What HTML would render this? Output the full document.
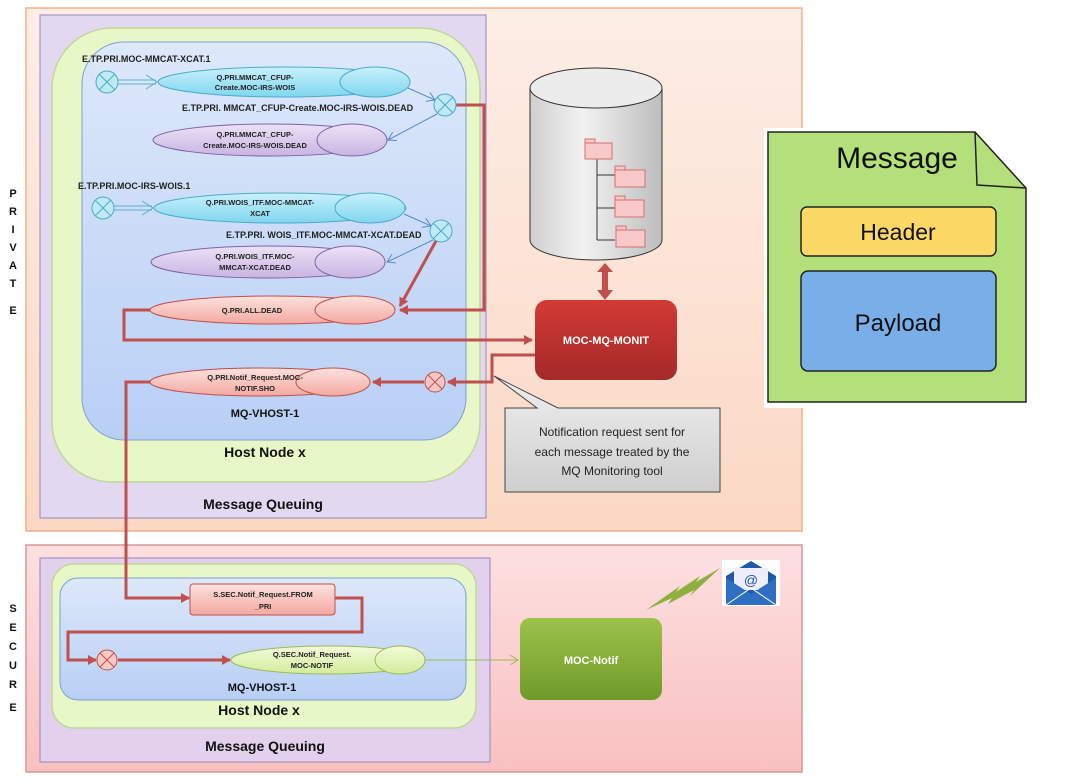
<!DOCTYPE html>
<html><head><meta charset="utf-8"><style>
html,body{margin:0;padding:0;background:#fff;width:1077px;height:783px;overflow:hidden}
svg{display:block;font-family:"Liberation Sans",sans-serif}
.s{font-size:7.5px;font-weight:bold;fill:#222;text-anchor:middle}
.l{font-size:9px;font-weight:bold;fill:#222}
.b{font-size:14px;font-weight:bold;fill:#111;text-anchor:middle}
.v{font-size:11px;font-weight:bold;fill:#111;text-anchor:middle}
</style></head><body>
<svg width="1077" height="783" viewBox="0 0 1077 783" xmlns="http://www.w3.org/2000/svg">
<defs>
<linearGradient id="pk" x1="0" y1="0" x2="0" y2="1"><stop offset="0" stop-color="#fdeee6"/><stop offset="1" stop-color="#fbd8c4"/></linearGradient>
<linearGradient id="rs" x1="0" y1="0" x2="0" y2="1"><stop offset="0" stop-color="#fde0e0"/><stop offset="1" stop-color="#f9c0c0"/></linearGradient>
<linearGradient id="bl" x1="0" y1="0" x2="0" y2="1"><stop offset="0" stop-color="#dde8fa"/><stop offset="1" stop-color="#b8cff5"/></linearGradient>
<linearGradient id="cy" x1="0" y1="0" x2="0" y2="1"><stop offset="0" stop-color="#c9f0fb"/><stop offset="1" stop-color="#7fd6ef"/></linearGradient>
<linearGradient id="pu" x1="0" y1="0" x2="0" y2="1"><stop offset="0" stop-color="#ece2f7"/><stop offset="1" stop-color="#c9b4e2"/></linearGradient>
<linearGradient id="rd" x1="0" y1="0" x2="0" y2="1"><stop offset="0" stop-color="#fde2de"/><stop offset="1" stop-color="#f3a8a0"/></linearGradient>
<linearGradient id="gq" x1="0" y1="0" x2="0" y2="1"><stop offset="0" stop-color="#f2fbd9"/><stop offset="1" stop-color="#d3ec9c"/></linearGradient>
<linearGradient id="mon" x1="0" y1="0" x2="0" y2="1"><stop offset="0" stop-color="#d33a36"/><stop offset="1" stop-color="#a32a28"/></linearGradient>
<linearGradient id="gn" x1="0" y1="0" x2="0" y2="1"><stop offset="0" stop-color="#9cc24a"/><stop offset="1" stop-color="#6f9a2a"/></linearGradient>
<linearGradient id="cyl" x1="0" y1="0" x2="1" y2="0"><stop offset="0" stop-color="#cfcfcf"/><stop offset=".4" stop-color="#f2f2f2"/><stop offset="1" stop-color="#bdbdbd"/></linearGradient>
<linearGradient id="gr" x1="0" y1="0" x2="0" y2="1"><stop offset="0" stop-color="#eeeeee"/><stop offset="1" stop-color="#cfcfcf"/></linearGradient>
<marker id="ar" markerWidth="10" markerHeight="10" refX="8" refY="5" orient="auto" markerUnits="userSpaceOnUse"><path d="M0,0 L9,5 L0,10 z" fill="#c0504d"/></marker>
<marker id="ab" markerWidth="10" markerHeight="10" refX="8" refY="5" orient="auto" markerUnits="userSpaceOnUse"><path d="M0,0 L8,5 L0,10" fill="none" stroke="#5a8ad0" stroke-width="1"/></marker>
<marker id="ag" markerWidth="10" markerHeight="10" refX="8" refY="5" orient="auto" markerUnits="userSpaceOnUse"><path d="M0,0 L8,5 L0,10" fill="none" stroke="#9bbb59" stroke-width="1"/></marker>
</defs>

<!-- PRIVATE region -->
<rect x="26" y="8" width="776" height="523" fill="url(#pk)" stroke="#f4b183" stroke-width="1.5"/>
<rect x="40" y="15" width="446" height="503" fill="#e2d8f0" stroke="#9784c2" stroke-width="1"/>
<rect x="52" y="28" width="428" height="454" rx="60" fill="#e8f7c8" stroke="#c3d69b" stroke-width="1.5"/>
<rect x="82" y="42" width="384" height="398" rx="42" fill="url(#bl)" stroke="#7f9fd0" stroke-width="1"/>
<text x="265" y="417" class="v">MQ-VHOST-1</text>
<text x="265" y="457" class="b">Host Node x</text>
<text x="263" y="509" class="b">Message Queuing</text>

<!-- SECURE region backgrounds -->
<rect x="26" y="545" width="776" height="227" fill="url(#rs)" stroke="#d99694" stroke-width="1.5"/>
<rect x="40" y="558" width="450" height="204" fill="#e2d0ec" stroke="#9784c2"/>
<rect x="52" y="564" width="424" height="164" rx="22" fill="#e8f7c8" stroke="#c3d69b" stroke-width="1.5"/>
<rect x="60" y="578" width="406" height="122" rx="18" fill="url(#bl)" stroke="#7f9fd0"/>
<text x="262" y="691" class="v">MQ-VHOST-1</text>
<text x="259" y="715" class="b">Host Node x</text>
<text x="265" y="751" class="b">Message Queuing</text>

<!-- letters -->
<g font-size="11" font-weight="bold" fill="#111" text-anchor="middle">
<text x="13" y="197">P</text><text x="13" y="215">R</text><text x="13" y="233">I</text><text x="13" y="251">V</text><text x="13" y="269">A</text><text x="13" y="287">T</text><text x="13" y="314">E</text>
<text x="13" y="612">S</text><text x="13" y="631">E</text><text x="13" y="650">C</text><text x="13" y="669">U</text><text x="13" y="688">R</text><text x="13" y="711">E</text>
</g>

<!-- queues top -->
<text x="82" y="62" class="l">E.TP.PRI.MOC-MMCAT-XCAT.1</text>
<ellipse cx="284" cy="82" rx="126" ry="15" fill="url(#cy)" stroke="#4bacc6"/>
<ellipse cx="375" cy="82" rx="35" ry="15" fill="url(#cy)" stroke="#4bacc6"/>
<text x="255" y="80" class="s">Q.PRI.MMCAT_CFUP-</text><text x="255" y="90" class="s">Create.MOC-IRS-WOIS</text>
<text x="182" y="111" class="l">E.TP.PRI. MMCAT_CFUP-Create.MOC-IRS-WOIS.DEAD</text>
<ellipse cx="270" cy="140" rx="117" ry="16" fill="url(#pu)" stroke="#8064a2"/>
<ellipse cx="352" cy="140" rx="35" ry="16" fill="url(#pu)" stroke="#8064a2"/>
<text x="255" y="137" class="s">Q.PRI.MMCAT_CFUP-</text><text x="255" y="148" class="s">Create.MOC-IRS-WOIS.DEAD</text>

<text x="78" y="189" class="l">E.TP.PRI.MOC-IRS-WOIS.1</text>
<ellipse cx="280" cy="208" rx="126" ry="15" fill="url(#cy)" stroke="#4bacc6"/>
<ellipse cx="370" cy="208" rx="35" ry="15" fill="url(#cy)" stroke="#4bacc6"/>
<text x="260" y="205" class="s">Q.PRI.WOIS_ITF.MOC-MMCAT-</text><text x="260" y="216" class="s">XCAT</text>
<text x="226" y="238" class="l">E.TP.PRI. WOIS_ITF.MOC-MMCAT-XCAT.DEAD</text>
<ellipse cx="268" cy="262" rx="117" ry="16" fill="url(#pu)" stroke="#8064a2"/>
<ellipse cx="350" cy="262" rx="35" ry="16" fill="url(#pu)" stroke="#8064a2"/>
<text x="255" y="259" class="s">Q.PRI.WOIS_ITF.MOC-</text><text x="255" y="270" class="s">MMCAT-XCAT.DEAD</text>

<ellipse cx="272" cy="310" rx="122" ry="14" fill="url(#rd)" stroke="#c0504d"/>
<ellipse cx="355" cy="310" rx="40" ry="14" fill="url(#rd)" stroke="#c0504d"/>
<text x="252" y="313" class="s" font-size="9">Q.PRI.ALL.DEAD</text>

<ellipse cx="260" cy="382" rx="110" ry="14" fill="url(#rd)" stroke="#c0504d"/>
<ellipse cx="333" cy="382" rx="37" ry="14" fill="url(#rd)" stroke="#c0504d"/>
<text x="255" y="380" class="s" font-size="8">Q.PRI.Notif_Request.MOC-</text><text x="255" y="391" class="s" font-size="8">NOTIF.SHO</text>

<!-- double blue arrows -->
<g stroke="#5ab0cc" stroke-width="1" fill="none">
<path d="M118,80 L156,80 M118,84 L156,84"/><path d="M114,206 L152,206 M114,210 L152,210"/>
<path d="M146,75 L157,82 L146,89"/><path d="M142,201 L153,208 L142,215"/>
</g>
<g stroke="#5a8ad0" stroke-width="1" fill="none">
<path d="M408,88 L435,100" marker-end="url(#ab)"/>
<path d="M437,114 L388,140" marker-end="url(#ab)"/>
<path d="M404,214 L431,226" marker-end="url(#ab)"/>
<path d="M433,240 L387,262" marker-end="url(#ab)"/>
</g>

<!-- cylinder -->
<path d="M530,88 L530,240 A66,20 0 0 0 662,240 L662,88 Z" fill="url(#cyl)" stroke="#333"/>
<ellipse cx="596" cy="88" rx="66" ry="20" fill="#ececec" stroke="#333"/>
<path d="M597,152 L597,240 M597,175 L615,175 M597,208 L615,208 M597,240 L615,240" stroke="#333" fill="none"/>
<g fill="#f9c9c9" stroke="#d47070" stroke-width="1">
<rect x="585" y="143" width="27" height="16"/><rect x="585" y="139" width="10" height="4"/>
<rect x="615" y="170" width="30" height="17"/><rect x="615" y="166" width="10" height="4"/>
<rect x="615" y="200" width="29" height="17"/><rect x="615" y="196" width="10" height="4"/>
<rect x="616" y="230" width="29" height="17"/><rect x="616" y="226" width="10" height="4"/>
</g>
<path d="M605,263 L597,272 L602,272 L602,290 L597,290 L605,300 L613,290 L608,290 L608,272 L613,272 Z" fill="#c0504d"/>

<rect x="535" y="300" width="142" height="80" rx="12" fill="url(#mon)"/>
<text x="606" y="344" text-anchor="middle" font-size="11" font-weight="bold" fill="#fff">MOC-MQ-MONIT</text>

<!-- callout -->
<path d="M505,408 L537,408 L494,376 L558,408 L720,408 L720,492 L505,492 Z" fill="url(#gr)" stroke="#444"/>
<g font-size="12" fill="#222" text-anchor="middle"><text x="612" y="436">Notification request sent for</text><text x="612" y="456">each message treated by the</text><text x="612" y="475">MQ Monitoring tool</text></g>

<!-- Message card -->
<rect x="764" y="128" width="270" height="280" fill="#fff"/>
<path d="M768,132 L975,132 L1026,188 L1026,402 L768,402 Z" fill="#b3e07a" stroke="#222" stroke-width="1.5"/>
<path d="M975,132 L977,185 L1026,188" fill="none" stroke="#222" stroke-width="1.5"/>
<text x="897" y="168" text-anchor="middle" font-size="30" fill="#111">Message</text>
<rect x="801" y="207" width="195" height="49" rx="6" fill="#fcd867" stroke="#222" stroke-width="1.5"/>
<text x="898" y="240" text-anchor="middle" font-size="23" fill="#111">Header</text>
<rect x="801" y="271" width="195" height="100" rx="7" fill="#7aaee8" stroke="#222" stroke-width="1.5"/>
<text x="898" y="331" text-anchor="middle" font-size="24" fill="#111">Payload</text>

<!-- secure contents -->
<rect x="190" y="584" width="145" height="31" rx="3" fill="url(#rd)" stroke="#c0504d"/>
<text x="263" y="597" class="s">S.SEC.Notif_Request.FROM</text><text x="263" y="609" class="s">_PRI</text>
<ellipse cx="328" cy="660" rx="97" ry="14" fill="url(#gq)" stroke="#9bbb59"/>
<ellipse cx="400" cy="660" rx="25" ry="14" fill="url(#gq)" stroke="#9bbb59"/>
<text x="312" y="657" class="s">Q.SEC.Notif_Request.</text><text x="312" y="668" class="s">MOC-NOTIF</text>
<path d="M425,660 L518,660" stroke="#9bbb59" stroke-width="1" marker-end="url(#ag)"/>
<rect x="520" y="618" width="142" height="82" rx="10" fill="url(#gn)"/>
<text x="591" y="664" text-anchor="middle" font-size="11" font-weight="bold" fill="#fff">MOC-Notif</text>
<path d="M646,610 L680,586 L676,592 L700,576 L696,582 L720,568 L690,596 L694,590 L668,604 L672,598 Z" fill="#8db040"/>
<rect x="722" y="560" width="58" height="46" fill="#fff"/>
<path d="M726,576 L751,561 L776,576 L776,605 L726,605 Z" fill="#1e5aa8"/>
<rect x="734" y="568" width="34" height="22" fill="#eef"/>
<text x="751" y="585" text-anchor="middle" font-size="14" fill="#1e5aa8">@</text>
<path d="M726,578 L751,594 L776,578 L776,605 L726,605 Z" fill="#2e6fc4"/>
<path d="M726,605 L751,588 L776,605" fill="none" stroke="#fff" stroke-width="1"/>

<!-- red connectors (on top) -->
<g stroke="#c0504d" stroke-width="3" fill="none">
<path d="M456,105 L484,105 L484,310 L400,310" marker-end="url(#ar)"/>
<path d="M436,241 L400,306" marker-end="url(#ar)"/>
<path d="M150,310 L124,310 L124,340 L532,340" marker-end="url(#ar)"/>
<path d="M535,355 L492,355 L492,382 L448,382" marker-end="url(#ar)"/>
<path d="M424,382 L373,382" marker-end="url(#ar)"/>
<path d="M150,382 L126,382 L126,598 L189,598" marker-end="url(#ar)"/>
<path d="M335,598 L362,598 L362,632 L68,632 L68,660 L96,660" marker-end="url(#ar)"/>
<path d="M118,660 L230,660" marker-end="url(#ar)"/>
</g>

<!-- exchanges -->
<g fill="#bfe9f5" stroke="#4bacc6" stroke-width="1">
<circle cx="107" cy="82" r="11"/><circle cx="445" cy="105" r="11"/><circle cx="103" cy="208" r="11"/><circle cx="441" cy="231" r="11"/>
</g>
<g stroke="#4bacc6" stroke-width="1">
<path d="M99,74 L115,90 M115,74 L99,90"/><path d="M437,97 L453,113 M453,97 L437,113"/><path d="M95,200 L111,216 M111,200 L95,216"/><path d="M433,223 L449,239 M449,223 L433,239"/>
</g>
<circle cx="435" cy="382" r="10" fill="#f8c8c4" stroke="#c0504d"/>
<path d="M428,375 L442,389 M442,375 L428,389" stroke="#c0504d"/>
<circle cx="107" cy="660" r="10" fill="#f8c8c4" stroke="#c0504d"/>
<path d="M100,653 L114,667 M114,653 L100,667" stroke="#c0504d"/>
</svg>
</body></html>
